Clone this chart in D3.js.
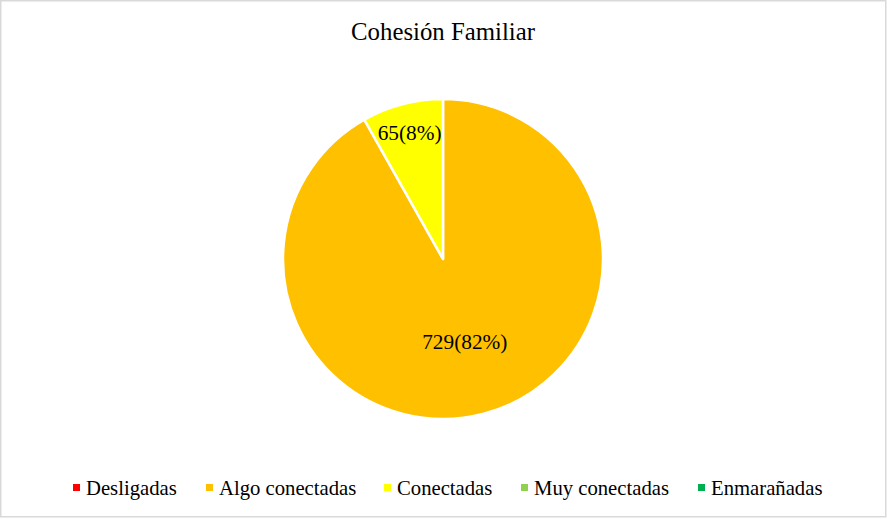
<!DOCTYPE html>
<head>
  <meta charset="utf-8">
  <script src="https://d3js.org/d3.v7.min.js"></script>
  <style>
    body { margin: 0; padding: 0; background: #fff; }
    svg { display: block; font-family: "Liberation Serif", "Times New Roman", serif; }
  </style>
</head>
<body>
  <script>
    // Cohesion familiar data
    var categories = ["Desligadas", "Algo conectadas", "Conectadas", "Muy conectadas", "Enmarañadas"],
      counts = [0, 729, 65, 0, 0],
      labels = ["", "729(82%)", "65(8%)", "", ""],
      colors = ["#FF0000", "#FFC000", "#FFFF00", "#92D050", "#00B050"];

    var width = 887,
      height = 519,
      cx = 443,
      cy = 259,
      radius = 160;

    var svg = d3.select("body").append("svg")
      .attr("width", width)
      .attr("height", height);

    svg.append("rect")
      .attr("x", 0.75)
      .attr("y", 0.75)
      .attr("width", 885)
      .attr("height", 516)
      .attr("fill", "#fff")
      .attr("stroke", "#d9d9d9")
      .attr("stroke-width", 1.5);

    svg.append("text")
      .attr("x", cx)
      .attr("y", 40)
      .attr("text-anchor", "middle")
      .attr("font-size", "24.8px")
      .text("Cohesión Familiar");

    var pie = d3.pie().sort(null).value(function (d) { return d; });
    var arcs = pie(counts);
    var arc = d3.arc().innerRadius(0).outerRadius(radius);

    var g = svg.append("g").attr("transform", "translate(" + cx + "," + cy + ")");

    g.selectAll("path")
      .data(arcs.filter(function (d) { return d.value > 0; }))
      .enter().append("path")
      .attr("d", arc)
      .attr("fill", function (d) { return colors[d.index]; })
      .attr("stroke", "#fff")
      .attr("stroke-width", 2.5)
      .attr("stroke-linejoin", "round");

    // small slices get their label near the rim, big ones closer in
    g.selectAll("text.lbl")
      .data(arcs.filter(function (d) { return d.value > 0; }))
      .enter().append("text")
      .attr("class", "lbl")
      .attr("transform", function (d) {
        var share = (d.endAngle - d.startAngle) / (2 * Math.PI);
        var r = share < 0.2 ? radius * 0.82 : radius * 0.535;
        var c = d3.arc().innerRadius(r).outerRadius(r).centroid(d);
        return "translate(" + c[0] + "," + c[1] + ")";
      })
      .attr("text-anchor", "middle")
      .attr("dy", "0.35em")
      .attr("font-size", "21.3px")
      .text(function (d) { return labels[d.index]; });

    // legend
    var legendX = [73, 206, 384, 521, 698];
    var legend = svg.append("g");
    var item = legend.selectAll("g")
      .data(categories)
      .enter().append("g")
      .attr("transform", function (d, i) { return "translate(" + legendX[i] + ",488)"; });

    item.append("rect")
      .attr("x", 0)
      .attr("y", -4)
      .attr("width", 7)
      .attr("height", 7)
      .attr("fill", function (d, i) { return colors[i]; });

    item.append("text")
      .attr("x", 13)
      .attr("y", 0)
      .attr("dy", "0.35em")
      .attr("font-size", "20.7px")
      .text(function (d) { return d; });
  </script>
</body>
